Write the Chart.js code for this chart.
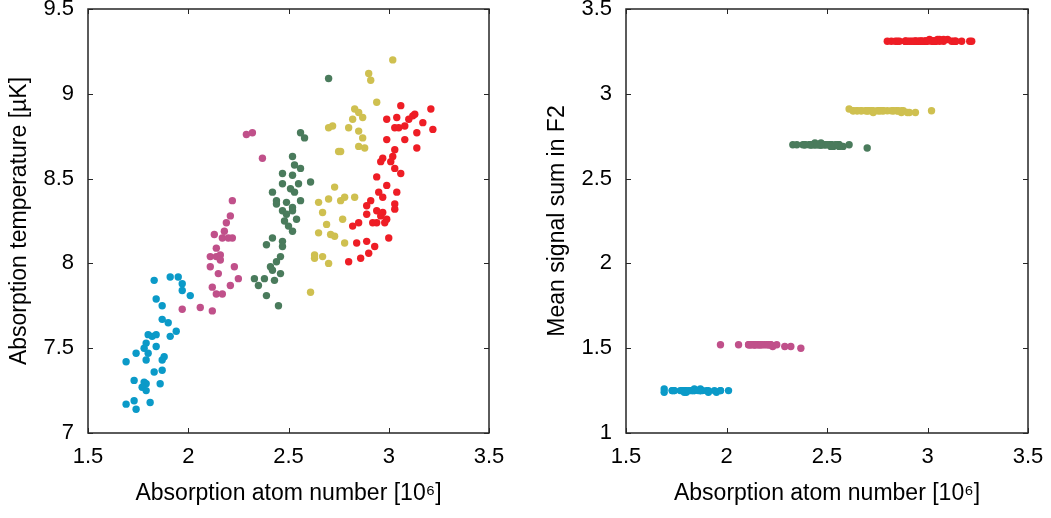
<!DOCTYPE html>
<html>
<head>
<meta charset="utf-8">
<script src="https://cdn.jsdelivr.net/npm/chart.js@4"></script>
<style>
  body { margin: 0; background: #fff; }
  .wrap { position: absolute; top: 0; height: 518px; }
</style>
</head>
<body>
<div class="wrap" style="left:0;width:520px"><canvas id="tempChart" width="520" height="518"></canvas></div>
<div class="wrap" style="left:538px;width:513px"><canvas id="signalChart" width="513" height="518"></canvas></div>
<script>
// atom number [10^6], absorption temperature [uK], mean signal sum in F2
const cyanAtoms = [1.83,1.91,1.95,1.97,1.97,2.01,1.84,1.87,1.87,1.90,1.94,1.91,1.80,1.82,1.84,1.79,1.78,1.84,1.74,1.80,1.88,1.87,1.79,1.69,1.83,1.87,1.73,1.78,1.79,1.77,1.79,1.86,1.69,1.73,1.74,1.81];
const cyanTemp = [7.90,7.92,7.92,7.88,7.84,7.81,7.79,7.75,7.67,7.65,7.60,7.57,7.58,7.57,7.58,7.53,7.50,7.51,7.47,7.47,7.45,7.43,7.43,7.42,7.36,7.37,7.31,7.30,7.29,7.27,7.25,7.29,7.17,7.19,7.14,7.18];
const cyanSignal = [1.25,1.25,1.24,1.25,1.25,1.25,1.25,1.26,1.25,1.25,1.25,1.24,1.25,1.25,1.26,1.25,1.25,1.25,1.25,1.24,1.25,1.25,1.25,1.26,1.25,1.25,1.25,1.25,1.25,1.25,1.24,1.25,1.24,1.25,1.25,1.25];

const magentaAtoms = [2.29,2.32,2.37,2.22,2.21,2.19,2.18,2.13,2.17,2.20,2.22,2.14,2.11,2.14,2.16,2.16,2.11,2.23,2.15,2.25,2.12,2.14,2.17,2.21,1.97,2.06,2.12];
const magentaTemp = [8.76,8.77,8.62,8.37,8.28,8.24,8.19,8.17,8.15,8.15,8.15,8.09,8.04,8.04,8.05,8.02,7.98,7.98,7.94,7.91,7.86,7.82,7.82,7.87,7.73,7.74,7.72];
const magentaSignal = [1.51,1.51,1.50,1.52,1.52,1.52,1.52,1.52,1.52,1.52,1.52,1.52,1.52,1.52,1.52,1.52,1.52,1.51,1.52,1.52,1.52,1.52,1.52,1.52,1.52,1.52,1.52];

const greenAtoms = [2.70,2.56,2.58,2.52,2.53,2.56,2.47,2.61,2.52,2.47,2.51,2.53,2.55,2.42,2.44,2.44,2.49,2.56,2.52,2.47,2.49,2.52,2.54,2.48,2.50,2.52,2.42,2.47,2.47,2.39,2.46,2.44,2.41,2.42,2.46,2.38,2.33,2.35,2.43,2.39,2.45];
const greenTemp = [9.09,8.77,8.74,8.63,8.58,8.56,8.53,8.48,8.52,8.47,8.44,8.42,8.47,8.42,8.37,8.35,8.36,8.37,8.33,8.31,8.29,8.31,8.26,8.25,8.22,8.19,8.15,8.13,8.10,8.11,8.04,8.01,7.98,7.96,7.94,7.91,7.91,7.87,7.90,7.81,7.75];
const greenSignal = [2.68,2.70,2.69,2.70,2.69,2.70,2.70,2.70,2.69,2.70,2.70,2.69,2.70,2.70,2.70,2.71,2.70,2.69,2.70,2.70,2.70,2.70,2.70,2.70,2.70,2.69,2.70,2.71,2.70,2.70,2.70,2.70,2.70,2.70,2.70,2.70,2.70,2.70,2.70,2.70,2.70];

const yellowAtoms = [3.02,2.90,2.91,2.94,2.83,2.85,2.87,2.82,2.80,2.70,2.72,2.85,2.87,2.85,2.88,2.75,2.76,2.73,2.65,2.70,2.76,2.78,2.83,2.67,2.77,2.69,2.65,2.71,2.73,2.78,2.63,2.63,2.67,2.70,2.61];
const yellowTemp = [9.20,9.12,9.08,8.95,8.91,8.89,8.86,8.85,8.80,8.80,8.81,8.78,8.74,8.69,8.68,8.66,8.66,8.45,8.36,8.38,8.37,8.39,8.39,8.30,8.26,8.23,8.18,8.17,8.16,8.12,8.05,8.03,8.04,8.00,7.83];
const yellowSignal = [2.90,2.89,2.89,2.89,2.90,2.90,2.89,2.90,2.90,2.90,2.90,2.90,2.90,2.90,2.90,2.90,2.90,2.89,2.90,2.90,2.90,2.90,2.90,2.90,2.90,2.90,2.90,2.90,2.90,2.90,2.90,2.90,2.90,2.90,2.91];

const redAtoms = [3.06,3.21,2.99,3.04,3.10,3.13,3.12,3.17,3.22,3.03,3.05,3.08,3.14,2.99,3.08,3.14,3.03,3.02,2.97,2.96,3.01,3.03,3.06,2.94,2.99,2.95,3.04,2.97,2.91,2.89,3.03,3.03,2.94,2.97,2.89,2.96,2.99,2.94,2.92,2.98,2.85,2.82,3.00,2.84,2.89,2.93,2.90,2.86,2.80];
const redTemp = [8.93,8.91,8.85,8.86,8.85,8.88,8.87,8.83,8.79,8.80,8.80,8.81,8.77,8.73,8.73,8.68,8.67,8.63,8.62,8.60,8.60,8.56,8.53,8.51,8.46,8.42,8.42,8.39,8.37,8.34,8.35,8.32,8.31,8.30,8.29,8.28,8.26,8.24,8.24,8.24,8.24,8.22,8.15,8.12,8.13,8.10,8.06,8.03,8.01];
const redSignal = [3.32,3.31,3.31,3.31,3.32,3.31,3.31,3.31,3.31,3.31,3.32,3.31,3.31,3.31,3.32,3.31,3.31,3.31,3.31,3.31,3.32,3.31,3.31,3.31,3.31,3.31,3.31,3.31,3.31,3.31,3.31,3.31,3.31,3.31,3.31,3.31,3.31,3.31,3.31,3.31,3.31,3.31,3.31,3.31,3.31,3.31,3.31,3.31,3.31];

const xTicks = [1.5, 2, 2.5, 3, 3.5];
const tempTicks = [7, 7.5, 8, 8.5, 9, 9.5];
const signalTicks = [1, 1.5, 2, 2.5, 3, 3.5];

const groups = [
  { atoms: cyanAtoms, temp: cyanTemp, signal: cyanSignal, color: '#0b9ac8' },
  { atoms: magentaAtoms, temp: magentaTemp, signal: magentaSignal, color: '#c0508a' },
  { atoms: greenAtoms, temp: greenTemp, signal: greenSignal, color: '#4a7b5c' },
  { atoms: yellowAtoms, temp: yellowTemp, signal: yellowSignal, color: '#cfc050' },
  { atoms: redAtoms, temp: redTemp, signal: redSignal, color: '#ee1d25' }
];

const fontFam = "'Liberation Sans', Arial, sans-serif";

// matlab style box with inward ticks on all sides
const boxTicks = {
  id: 'boxTicks',
  afterDatasetsDraw(chart) {
    const { ctx, chartArea: a, scales: { x, y } } = chart;
    const len = 5;
    ctx.save();
    ctx.strokeStyle = '#262626';
    ctx.lineWidth = 1.5;
    ctx.strokeRect(a.left, a.top, a.right - a.left, a.bottom - a.top);
    ctx.lineWidth = 1;
    ctx.beginPath();
    x.ticks.forEach(t => {
      const px = Math.round(x.getPixelForValue(t.value)) + 0.5;
      ctx.moveTo(px, a.bottom); ctx.lineTo(px, a.bottom - len);
      ctx.moveTo(px, a.top); ctx.lineTo(px, a.top + len);
    });
    y.ticks.forEach(t => {
      const py = Math.round(y.getPixelForValue(t.value)) + 0.5;
      ctx.moveTo(a.left, py); ctx.lineTo(a.left + len, py);
      ctx.moveTo(a.right, py); ctx.lineTo(a.right - len, py);
    });
    ctx.stroke();
    ctx.restore();
  }
};

function makeChart(id, key, yTicks, yTitle, rightPad) {
  const datasets = groups.map(g => ({
    data: g.atoms.map((v, i) => ({ x: v, y: g[key][i] })),
    backgroundColor: g.color,
    borderWidth: 0,
    pointRadius: 3.7,
    pointHoverRadius: 3.7
  }));
  new Chart(document.getElementById(id), {
    type: 'scatter',
    data: { datasets: datasets },
    plugins: [boxTicks],
    options: {
      responsive: false,
      animation: false,
      layout: { padding: { top: 9, right: rightPad, left: 0, bottom: 0 } },
      plugins: { legend: { display: false }, tooltip: { enabled: false } },
      scales: {
        x: {
          type: 'linear',
          min: xTicks[0],
          max: xTicks[xTicks.length - 1],
          afterBuildTicks: s => { s.ticks = xTicks.map(v => ({ value: v })); },
          afterFit: s => { s.height = 85; s.paddingLeft = 0; s.paddingRight = 0; },
          grid: { display: false, drawTicks: false },
          border: { display: false },
          ticks: { color: '#000', padding: 11, maxRotation: 0, font: { family: fontFam, size: 22 }, callback: v => String(v) },
          title: {
            display: true,
            text: 'Absorption atom number [10\u2076]',
            color: '#000',
            font: { family: fontFam, size: 23 },
            padding: { top: 0, bottom: 11 }
          }
        },
        y: {
          type: 'linear',
          min: yTicks[0],
          max: yTicks[yTicks.length - 1],
          afterBuildTicks: s => { s.ticks = yTicks.map(v => ({ value: v })); },
          afterFit: s => { s.width = 88; s.paddingTop = 0; s.paddingBottom = 0; },
          grid: { display: false, drawTicks: false },
          border: { display: false },
          ticks: { color: '#000', padding: 14, font: { family: fontFam, size: 22 }, callback: v => String(v) },
          title: {
            display: true,
            text: yTitle,
            color: '#000',
            font: { family: fontFam, size: 23 },
            padding: { top: 6, bottom: 0 }
          }
        }
      }
    }
  });
}

makeChart('tempChart', 'temp', tempTicks, 'Absorption temperature [\u00b5K]', 31);
makeChart('signalChart', 'signal', signalTicks, 'Mean signal sum in F2', 23);
</script>
</body>
</html>
